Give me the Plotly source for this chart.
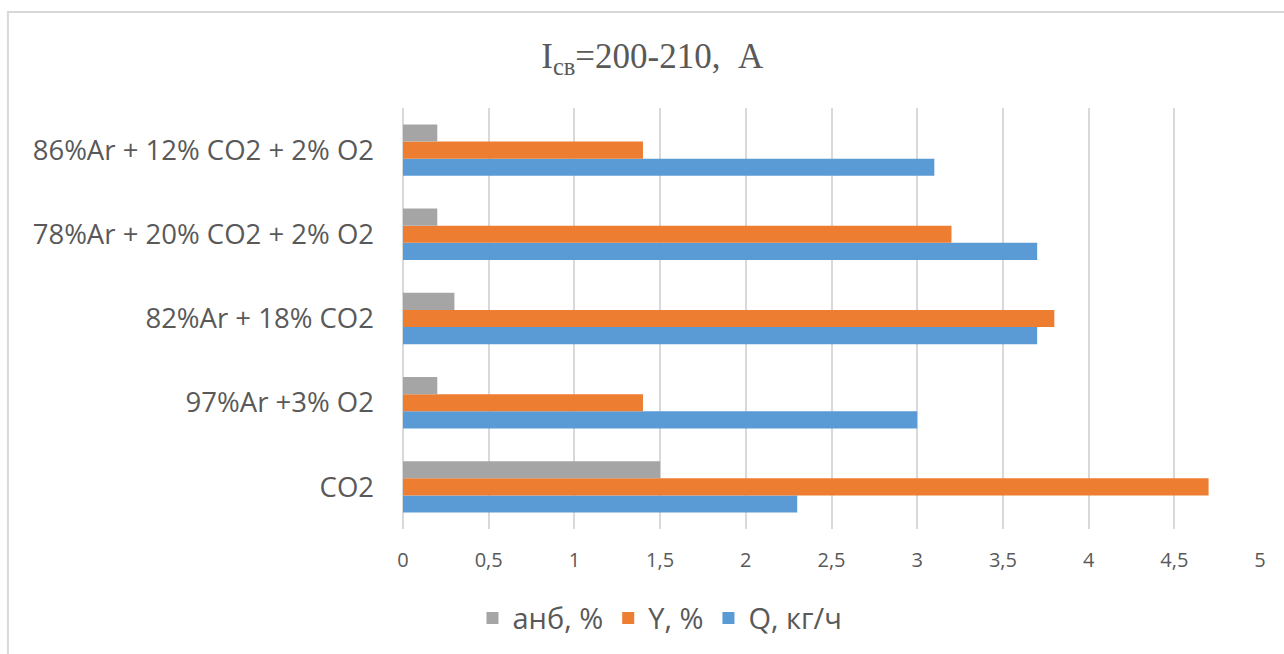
import plotly.graph_objects as go

# Shielding gas mixtures (bottom to top on the chart)
gases = [
    "CO2",
    "97%Ar +3% O2",
    "82%Ar + 18% CO2",
    "78%Ar + 20% CO2 + 2% O2",
    "86%Ar + 12% CO2 + 2% O2",
]

# Series values
q_kg_h = [2.3, 3.0, 3.7, 3.7, 3.1]      # Q, кг/ч
y_pct = [4.7, 1.4, 3.8, 3.2, 1.4]       # Y, %
anb_pct = [1.5, 0.2, 0.3, 0.2, 0.2]     # анб, %

x_ticks = [0, 0.5, 1, 1.5, 2, 2.5, 3, 3.5, 4, 4.5, 5]

GREY_TEXT = "#595959"
GRID = "#d9d9d9"

fig = go.Figure()
fig.add_trace(go.Bar(y=gases, x=q_kg_h, orientation="h", name="Q, кг/ч",
                     marker=dict(color="#5B9BD5", line=dict(width=0))))
fig.add_trace(go.Bar(y=gases, x=y_pct, orientation="h", name="Y, %",
                     marker=dict(color="#ED7D31", line=dict(width=0))))
fig.add_trace(go.Bar(y=gases, x=anb_pct, orientation="h", name="анб, %",
                     marker=dict(color="#A5A5A5", line=dict(width=0))))

fig.update_layout(
    width=1284,
    height=654,
    margin=dict(l=403, r=24, t=108, b=125),
    paper_bgcolor="white",
    plot_bgcolor="white",
    barmode="group",
    bargap=0.39,
    bargroupgap=0,
    separators=", ",
    font=dict(family="Open Sans", color=GREY_TEXT),
    title=dict(
        text="I<sub>св</sub>=200-210,\u00a0\u00a0A",
        font=dict(family="Liberation Serif", size=35, color=GREY_TEXT),
        xref="container", x=0.508, xanchor="center",
        yref="container", y=0.915, yanchor="middle",
    ),
    xaxis=dict(
        range=[0, 5],
        tickvals=x_ticks,
        showgrid=True,
        gridcolor=GRID,
        gridwidth=1.5,
        zeroline=True,
        zerolinecolor=GRID,
        zerolinewidth=1.5,
        showline=False,
        ticks="",
        ticklabelstandoff=17,
        tickfont=dict(family="Open Sans", size=20, color=GREY_TEXT),
    ),
    yaxis=dict(
        type="category",
        categoryorder="array",
        categoryarray=gases,
        showgrid=False,
        showline=False,
        ticks="",
        ticklabelstandoff=28,
        tickfont=dict(family="Open Sans", size=27.5, color=GREY_TEXT),
    ),
    legend=dict(
        orientation="h",
        traceorder="reversed",
        xref="container", x=0.514, xanchor="center",
        yref="container", y=0.055, yanchor="middle",
        font=dict(family="Open Sans", size=29, color=GREY_TEXT),
        itemwidth=30,
    ),
    showlegend=True,
    shapes=[
        dict(type="rect", xref="paper", yref="paper",
             x0=-0.461, x1=1.2, y0=-0.4, y1=1.228,
             line=dict(color=GRID, width=2), fillcolor="rgba(0,0,0,0)",
             layer="below"),
    ],
)

fig.write_html("out.html")
